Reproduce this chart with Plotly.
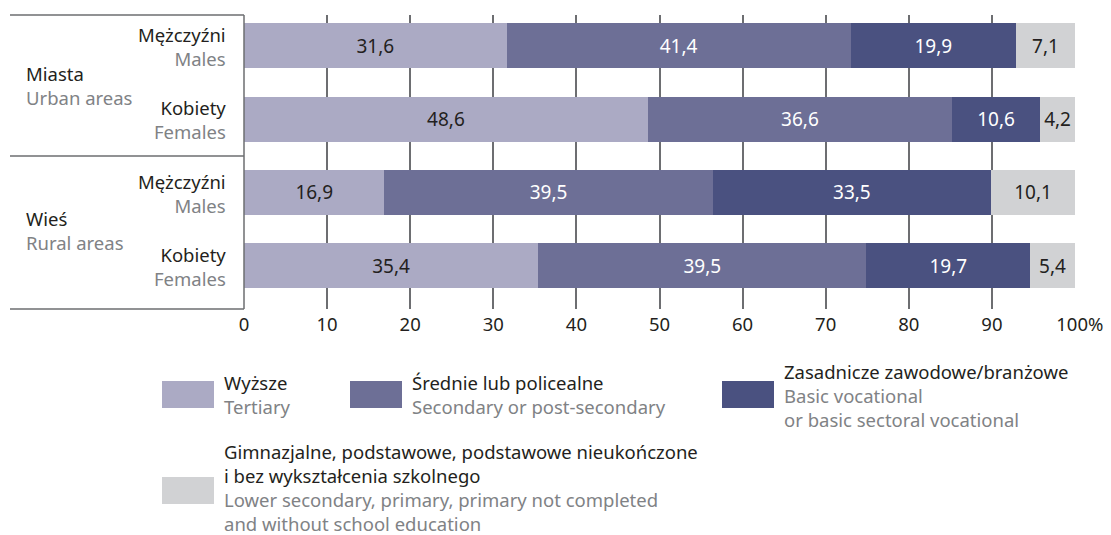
import plotly.graph_objects as go

rows = [0, 1, 2, 3]
tertiary = [31.6, 48.6, 16.9, 35.4]
secondary = [41.4, 36.6, 39.5, 39.5]
basic_voc = [19.9, 10.6, 33.5, 19.7]
lower = [7.1, 4.2, 10.1, 5.4]

series = [
    ("Wyższe", "Tertiary", tertiary, "#abaac4", "#231f20"),
    ("Średnie lub policealne", "Secondary or post-secondary", secondary, "#6d6f96", "#ffffff"),
    ("Zasadnicze zawodowe/branżowe", "Basic vocational or basic sectoral vocational", basic_voc, "#4a5180", "#ffffff"),
    ("Gimnazjalne, podstawowe...", "Lower secondary, primary...", lower, "#d1d2d4", "#231f20"),
]

tick_vals = [0, 10, 20, 30, 40, 50, 60, 70, 80, 90, 100]
tick_text = ["0", "10", "20", "30", "40", "50", "60", "70", "80", "90", "\u00a0\u00a0100%"]

FONT = "Noto Sans"
FS = 18.5
DARK = "#231f20"
GREY = "#808285"

W, H = 1111, 535
L, R, T, B = 244, 1075, 15, 309


def px(x):
    return (x - L) / (R - L)


def py(y):
    return (B - y) / (B - T)


def lines_html(lines):
    return "<br>".join(f"<span style='color:{c}'>{t}</span>" for t, c in lines)


fig = go.Figure()
for pl, en, vals, col, tcol in series:
    fig.add_trace(go.Bar(
        y=rows, x=vals, orientation="h", name=en,
        marker=dict(color=col, line=dict(width=0)),
        width=0.614,
        text=[f"{v:.1f}".replace(".", ",") for v in vals],
        textposition="inside", insidetextanchor="middle",
        textfont=dict(family=FONT, size=19, color=tcol),
        showlegend=False,
    ))

ann = []
shapes = []

# left labels (row: sex, group: area)
row_lbl = [46, 120, 193, 266]
sex = [("Mężczyźni", "Males"), ("Kobiety", "Females")] * 2
for yy, (pl, en) in zip(row_lbl, sex):
    ann.append(dict(x=px(228), y=py(yy), xref="paper", yref="paper",
                    text=lines_html([(pl, DARK), (en, GREY)]), showarrow=False, align="right",
                    xanchor="right", yanchor="middle", font=dict(family=FONT, size=FS)))
grp = [("Miasta", "Urban areas", 85), ("Wieś", "Rural areas", 230)]
for pl, en, yy in grp:
    ann.append(dict(x=px(24), y=py(yy), xref="paper", yref="paper",
                    text=lines_html([(pl, DARK), (en, GREY)]), showarrow=False, align="left",
                    xanchor="left", yanchor="middle", font=dict(family=FONT, size=FS)))

# frame lines
for yy in [15, 156, 309]:
    shapes.append(dict(type="line", xref="paper", yref="paper", x0=px(10), x1=px(244), y0=py(yy), y1=py(yy),
                       line=dict(color="#6d6e71", width=1.5)))
shapes.append(dict(type="line", xref="paper", yref="paper", x0=0, x1=0, y0=0, y1=1,
                   line=dict(color="#6d6e71", width=1.5)))

# legend
leg = [
    (162, 381, 394, [("Wyższe", DARK), ("Tertiary", GREY)], 0),
    (350, 381, 394, [("Średnie lub policealne", DARK), ("Secondary or post-secondary", GREY)], 1),
    (722, 381, 395, [("Zasadnicze zawodowe/branżowe", DARK), ("Basic vocational", GREY),
                     ("or basic sectoral vocational", GREY)], 2),
    (162, 477, 487, [("Gimnazjalne, podstawowe, podstawowe nieukończone", DARK),
                     ("i bez wykształcenia szkolnego", DARK),
                     ("Lower secondary, primary, primary not completed", GREY),
                     ("and without school education", GREY)], 3),
]
for sx, sy, ty, lines, si in leg:
    shapes.append(dict(type="rect", xref="paper", yref="paper", x0=px(sx), x1=px(sx + 52), y0=py(sy), y1=py(sy + 27),
                       fillcolor=series[si][3], line=dict(width=0)))
    ann.append(dict(x=px(sx + 60), y=py(ty), xref="paper", yref="paper", text=lines_html(lines),
                    showarrow=False, align="left", xanchor="left", yanchor="middle",
                    font=dict(family=FONT, size=FS)))

fig.update_layout(
    width=W, height=H, barmode="stack", autosize=False,
    margin=dict(l=L, r=W - R, t=T, b=H - B, pad=0, autoexpand=False),
    paper_bgcolor="white", plot_bgcolor="white",
    annotations=ann, shapes=shapes,
    xaxis=dict(range=[0, 100], tickvals=tick_vals, ticktext=tick_text, showgrid=True,
               gridcolor="#6d6e71", gridwidth=1.5, zeroline=False, showline=False, ticks="",
               ticklabelstandoff=2, automargin=False,
               tickfont=dict(family=FONT, size=FS, color=DARK), fixedrange=True),
    yaxis=dict(range=[3.593, -0.423], showticklabels=False, showgrid=False, zeroline=False,
               showline=False, fixedrange=True, automargin=False),
    uniformtext=dict(mode=False),
)

fig.write_html("out.html", config={"displayModeBar": False},
               post_script="document.body.style.margin='0';document.body.style.padding='0';document.body.style.overflow='hidden';")
